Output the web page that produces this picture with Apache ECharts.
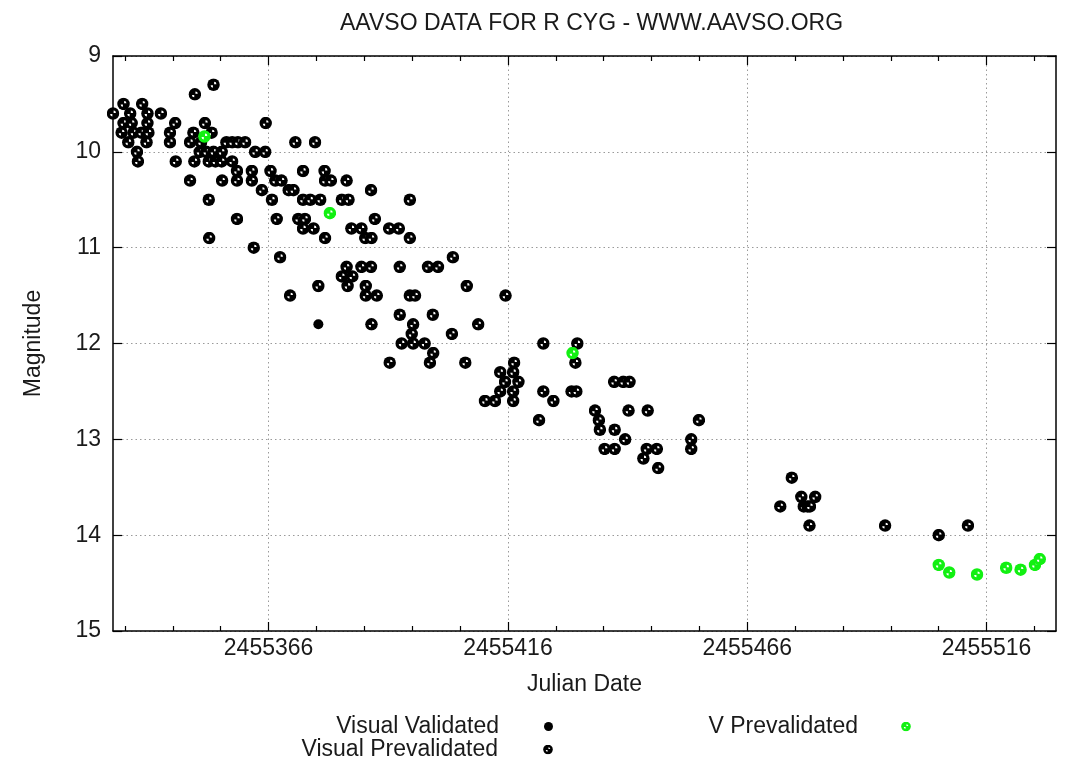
<!DOCTYPE html>
<html><head><meta charset="utf-8">
<script src="https://cdn.jsdelivr.net/npm/echarts@6/dist/echarts.min.js"></script>
<style>html,body{margin:0;padding:0;background:#fff}#c{width:1079px;height:764px}</style>
</head><body><div id="c"></div><script>
// Julian dates are stored as JD - 2455000
const JD_BASE = 2455000;
const xMinDay = 333.5, xMaxDay = 530.5;
const majorTickDays = [366, 416, 466, 516];
const minorTickDays = [336, 346, 356, 376, 386, 396, 406, 426, 436, 446, 456, 476, 486, 496, 506, 526];
const magTicks = [9, 10, 11, 12, 13, 14, 15];

// Visual Prevalidated: [day, magnitude]
const visualPrevalidated = [
 [354.5,9.3],[350.6,9.4],[335.7,9.5],[339.6,9.5],
 [333.5,9.6],[337.1,9.6],[340.7,9.6],[343.5,9.6],
 [335.7,9.7],[337.4,9.7],[340.7,9.7],[346.5,9.7],[352.7,9.7],[365.4,9.7],
 [335.3,9.8],[337.8,9.8],[339.4,9.8],[340.9,9.8],[345.4,9.8],[350.3,9.8],[354.1,9.8],
 [336.7,9.9],[340.5,9.9],[345.4,9.9],[349.6,9.9],[351.9,9.9],[357.2,9.9],[358.4,9.9],[359.6,9.9],[361.1,9.9],[371.6,9.9],[375.7,9.9],
 [338.5,10.0],[351.6,10.0],[353.0,10.0],[354.5,10.0],[356.2,10.0],[363.2,10.0],[365.3,10.0],
 [338.7,10.1],[346.6,10.1],[350.5,10.1],[353.5,10.1],[354.9,10.1],[356.2,10.1],[358.4,10.1],
 [359.4,10.2],[362.5,10.2],[366.4,10.2],[373.2,10.2],[377.7,10.2],
 [349.6,10.3],[356.3,10.3],[359.4,10.3],[362.5,10.3],[367.4,10.3],[368.7,10.3],[377.8,10.3],[379.0,10.3],[382.3,10.3],
 [364.6,10.4],[370.2,10.4],[371.2,10.4],[387.4,10.4],
 [353.5,10.5],[366.7,10.5],[373.2,10.5],[374.7,10.5],[376.8,10.5],[381.3,10.5],[382.7,10.5],[395.5,10.5],
 [359.4,10.7],[367.7,10.7],[372.2,10.7],[373.6,10.7],[388.2,10.7],
 [373.2,10.8],[375.4,10.8],[383.3,10.8],[385.4,10.8],[391.2,10.8],[393.2,10.8],
 [353.6,10.9],[377.8,10.9],[386.2,10.9],[387.5,10.9],[395.5,10.9],
 [362.9,11.0],
 [368.4,11.1],[404.5,11.1],
 [382.3,11.2],[385.4,11.2],[387.4,11.2],[393.4,11.2],[399.3,11.2],[401.4,11.2],
 [381.3,11.3],[383.5,11.3],
 [376.4,11.4],[382.5,11.4],[386.3,11.4],[407.4,11.4],
 [370.5,11.5],[386.3,11.5],[388.6,11.5],[395.5,11.5],[396.6,11.5],[415.5,11.5],
 [393.4,11.7],[400.3,11.7],
 [387.5,11.8],[396.2,11.8],[409.8,11.8],
 [395.9,11.9],[404.3,11.9],
 [393.8,12.0],[396.2,12.0],[398.6,12.0],[423.4,12.0],[430.5,12.0],
 [400.4,12.1],
 [391.3,12.2],[399.7,12.2],[407.1,12.2],[417.3,12.2],[430.1,12.2],
 [414.4,12.3],[417.1,12.3],
 [415.4,12.4],[418.2,12.4],[438.2,12.4],[440.1,12.4],[441.4,12.4],
 [414.4,12.5],[417.1,12.5],[423.4,12.5],[429.3,12.5],[430.3,12.5],
 [411.2,12.6],[413.3,12.6],[417.1,12.6],[425.5,12.6],
 [434.2,12.7],[441.2,12.7],[445.2,12.7],
 [422.5,12.8],[435.0,12.8],[455.9,12.8],
 [435.2,12.9],[438.3,12.9],
 [440.5,13.0],[454.3,13.0],
 [436.2,13.1],[438.3,13.1],[445.0,13.1],[447.1,13.1],[454.3,13.1],
 [444.3,13.2],[447.4,13.3],
 [475.3,13.4],
 [477.3,13.6],[480.2,13.6],
 [472.9,13.7],[477.8,13.7],[478.6,13.7],[479.1,13.7],
 [479.0,13.9],[494.8,13.9],[512.1,13.9],
 [506.0,14.0]
];
// Visual Validated
const visualValidated = [[376.4, 11.8]];
// V Prevalidated
const vPrevalidated = [
 [352.6,9.84],[378.8,10.64],[429.5,12.10],
 [506.0,14.31],[508.2,14.39],[514.0,14.41],[520.1,14.34],[523.1,14.36],[526.1,14.31],[527.1,14.25]
];

const toJD = arr => arr.map(p => [p[0] + JD_BASE, p[1]]);
const FONT = 'Liberation Sans';
const TXT = '#1a1a1a';
const FS = 23;

function markSvg(fill) {
  const svg = '<svg xmlns="http://www.w3.org/2000/svg" width="26" height="26" viewBox="0 0 26 26">' +
    '<circle cx="13" cy="13" r="12.5" fill="' + fill + '"/>' +
    '<path d="M14.2 11.8 L14.2 7.2 A4.6 4.6 0 0 1 18.8 11.8 Z" fill="#fff"/>' +
    '<path d="M11.8 14.2 L11.8 18.8 A4.6 4.6 0 0 1 7.2 14.2 Z" fill="#fff"/>' +
    '</svg>';
  return 'image://data:image/svg+xml;charset=utf-8,' + encodeURIComponent(svg);
}
const blackMark = markSvg('#000');
const greenMark = markSvg('#12f012');

const jdMin = xMinDay + JD_BASE, jdMax = xMaxDay + JD_BASE;
const majors = majorTickDays.map(d => d + JD_BASE);
const minors = minorTickDays.map(d => d + JD_BASE);

const frameLine = { show: true, onZero: false, lineStyle: { color: '#000', width: 1.5 } };
const gridDots = { show: true, lineStyle: { color: '#9a9a9a', width: 1, type: [1.5, 3] } };

const chart = echarts.init(document.getElementById('c'), null, { renderer: 'canvas' });
chart.setOption({
  backgroundColor: '#fff',
  animation: false,
  textStyle: { fontFamily: FONT },
  title: {
    text: 'AAVSO DATA FOR R CYG - WWW.AAVSO.ORG',
    left: 335, top: 7,
    textStyle: { fontFamily: FONT, fontSize: FS, fontWeight: 'normal', color: TXT }
  },
  grid: { left: 113, right: 23, top: 56, bottom: 133, containLabel: false },
  xAxis: [
    { type: 'value', position: 'bottom', min: jdMin, max: jdMax,
      axisLine: frameLine,
      axisTick: { customValues: majors, inside: true, length: 9, lineStyle: { color: '#000', width: 1.2 } },
      axisLabel: { customValues: majors, fontFamily: FONT, fontSize: FS, color: TXT, margin: 6,
        formatter: v => String(Math.round(v)) },
      splitLine: gridDots,
      name: 'Julian Date', nameLocation: 'middle', nameGap: 42,
      nameTextStyle: { fontFamily: FONT, fontSize: FS, color: TXT } },
    { type: 'value', position: 'bottom', min: jdMin, max: jdMax,
      axisLine: { show: false },
      axisTick: { customValues: minors, inside: true, length: 5, lineStyle: { color: '#000', width: 1.2 } },
      axisLabel: { show: false }, splitLine: { show: false } },
    { type: 'value', position: 'top', min: jdMin, max: jdMax,
      axisLine: frameLine,
      axisTick: { customValues: majors, inside: true, length: 9, lineStyle: { color: '#000', width: 1.2 } },
      axisLabel: { show: false }, splitLine: { show: false } },
    { type: 'value', position: 'top', min: jdMin, max: jdMax,
      axisLine: { show: false },
      axisTick: { customValues: minors, inside: true, length: 5, lineStyle: { color: '#000', width: 1.2 } },
      axisLabel: { show: false }, splitLine: { show: false } }
  ],
  yAxis: [
    { type: 'value', position: 'left', inverse: true, min: magTicks[0], max: magTicks[magTicks.length - 1], interval: 1,
      axisLine: frameLine,
      axisTick: { inside: true, length: 9, lineStyle: { color: '#000', width: 1.2 } },
      axisLabel: { fontFamily: FONT, fontSize: FS, color: TXT, margin: 12 },
      splitLine: gridDots,
      name: 'Magnitude', nameLocation: 'middle', nameRotate: 90, nameGap: 68,
      nameTextStyle: { fontFamily: FONT, fontSize: FS, color: TXT } },
    { type: 'value', position: 'right', inverse: true, min: magTicks[0], max: magTicks[magTicks.length - 1], interval: 1,
      axisLine: frameLine,
      axisTick: { inside: true, length: 9, lineStyle: { color: '#000', width: 1.2 } },
      axisLabel: { show: false }, splitLine: { show: false } }
  ],
  legend: [
    { data: [{ name: 'Visual Validated', icon: 'circle' }], right: 526, top: 715, padding: 0,
      align: 'right', itemWidth: 9, itemHeight: 9, selectedMode: false,
      itemStyle: { opacity: 1 },
      textStyle: { fontFamily: FONT, fontSize: FS, color: TXT, padding: [0, 40, 0, 0] } },
    { data: [{ name: 'Visual Prevalidated', icon: blackMark }], right: 526, top: 738, padding: 0,
      align: 'right', itemWidth: 10, itemHeight: 10, selectedMode: false,
      itemStyle: { opacity: 1 },
      textStyle: { fontFamily: FONT, fontSize: FS, color: TXT, padding: [0, 40, 0, 0] } },
    { data: [{ name: 'V Prevalidated', icon: greenMark }], right: 168, top: 715, padding: 0,
      align: 'right', itemWidth: 10, itemHeight: 10, selectedMode: false,
      itemStyle: { opacity: 1 },
      textStyle: { fontFamily: FONT, fontSize: FS, color: TXT, padding: [0, 38, 0, 0] } }
  ],
  series: [
    { name: 'Visual Prevalidated', type: 'scatter', xAxisIndex: 0, yAxisIndex: 0,
      symbol: blackMark, symbolSize: 13, data: toJD(visualPrevalidated),
      itemStyle: { color: '#000', opacity: 1 } },
    { name: 'Visual Validated', type: 'scatter', xAxisIndex: 0, yAxisIndex: 0,
      symbol: 'circle', symbolSize: 10, data: toJD(visualValidated),
      itemStyle: { color: '#000', opacity: 1 } },
    { name: 'V Prevalidated', type: 'scatter', xAxisIndex: 0, yAxisIndex: 0,
      symbol: greenMark, symbolSize: 13, data: toJD(vPrevalidated),
      itemStyle: { color: '#12f012', opacity: 1 } }
  ]
});
</script></body></html>
